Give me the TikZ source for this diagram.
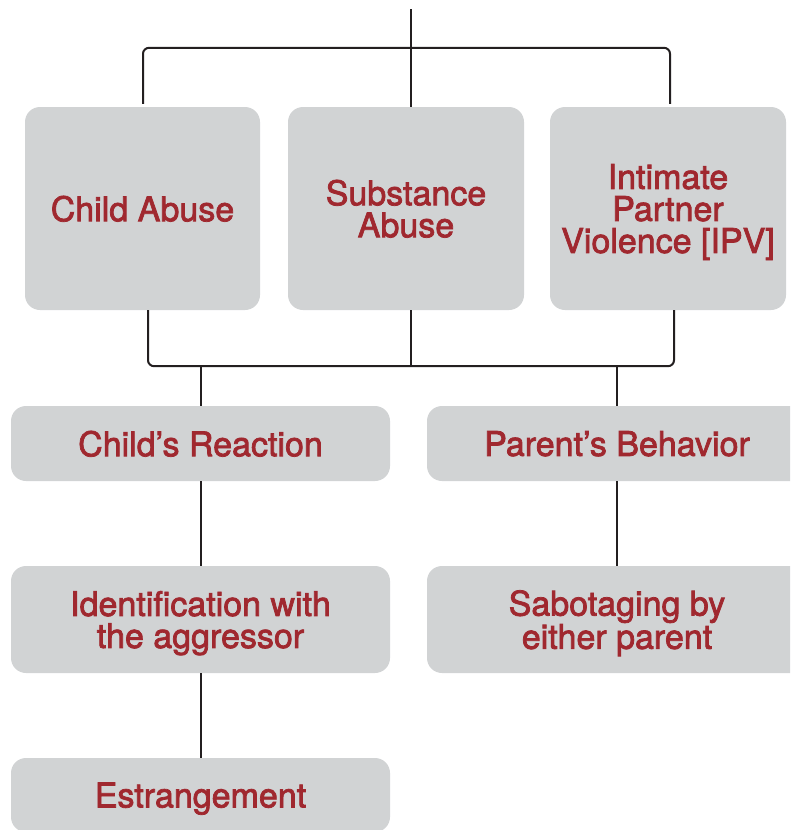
\documentclass[tikz,border=0pt]{standalone}
\usepackage{fontspec}
\setmainfont{TeX Gyre Heros}
\newfontfamily\boxfont{TeX Gyre Heros}[FakeBold=2.2]
\usetikzlibrary{calc}
\definecolor{boxgray}{RGB}{209,211,212}
\definecolor{txtred}{RGB}{160,40,47}
\definecolor{linedark}{RGB}{35,31,32}
\tikzset{
  box/.style={rectangle, rounded corners=15pt, fill=boxgray, draw=none,
    text=txtred, align=center, inner sep=0pt, text depth=0pt,
    font=\boxfont\fontsize{34}{32}\selectfont},
  conn/.style={draw=linedark, line width=2pt}
}
\begin{document}
\begin{tikzpicture}[x=1pt,y=-1pt]
\useasboundingbox (0,0) rectangle (790,830);
\clip (0,0) rectangle (790,830);
\node[box, minimum width=235pt, minimum height=203pt] (ca) at (142.5,208.5) {Child Abuse};
\node[box, minimum width=236pt, minimum height=203pt] (sa) at (406,208.5) {Substance\\Abuse};
\node[box, minimum width=236pt, minimum height=203pt] (ipv) at (668,208.5) {Intimate\\Partner\\Violence [IPV]};
\node[box, minimum width=379pt, minimum height=75pt] (cr) at (200.5,443.5) {Child’s Reaction};
\node[box, minimum width=380pt, minimum height=75pt] (pb) at (617,443.5) {Parent’s Behavior};
\node[box, minimum width=379pt, minimum height=107pt] (id) at (200.5,619.5) {Identification with\\the aggressor};
\node[box, minimum width=380pt, minimum height=107pt] (sab) at (617,619.5) {Sabotaging by\\either parent};
\node[box, minimum width=379pt, minimum height=74pt] (est) at (200.5,795) {Estrangement};
\coordinate (top) at (411,9);
% top bracket
\draw[conn] (top) -- (top |- sa.north);
\draw[conn, rounded corners=6pt] ($(ca.north)+(0.5,-3)$) -- ($(ca.north)+(0.5,-59)$) -- ($(ipv.north)+(2,-59)$) -- ($(ipv.north)+(2,-3)$);
% bottom bracket
\draw[conn, rounded corners=6pt] ($(ca.south)+(5.5,0)$) -- ($(ca.south)+(5.5,56)$) -- ($(ipv.south)+(6,56)$) -- ($(ipv.south)+(6,0)$);
\draw[conn] (top |- sa.south) -- ($(top |- sa.south)+(0,56)$);
\draw[conn] (cr.north) -- ++(0,-40);
\draw[conn] (pb.north) -- ++(0,-40);
% chains
\draw[conn] (cr.south) -- (id.north);
\draw[conn] (id.south) -- (est.north);
\draw[conn] (pb.south) -- (sab.north);
\end{tikzpicture}
\end{document}
